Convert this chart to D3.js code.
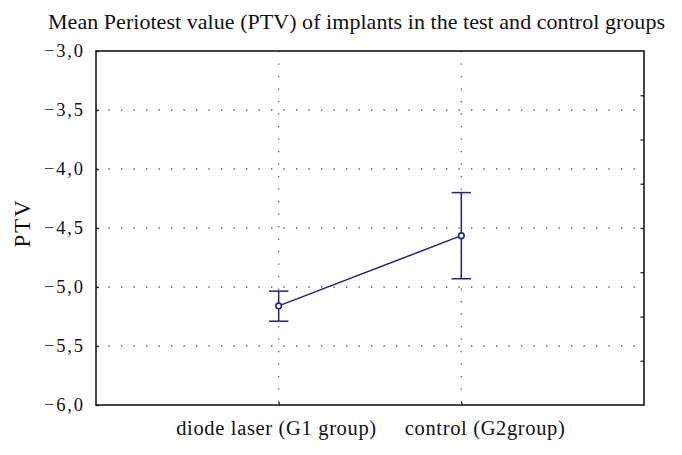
<!DOCTYPE html>
<html><head><meta charset="utf-8">
<script src="https://cdn.jsdelivr.net/npm/d3@7"></script>
<style>body{margin:0;background:#fff}svg{display:block}</style>
</head><body>
<svg id="c" width="682" height="455"></svg>
<script>
const title = "Mean Periotest value (PTV) of implants in the test and control groups";
const yLabel = "PTV";
const categories = ["diode laser (G1 group)", "control (G2group)"];
const means = [-5.16, -4.565];
const upper = [-5.035, -4.20];
const lower = [-5.29, -4.93];
const yTicks = [-3.0, -3.5, -4.0, -4.5, -5.0, -5.5, -6.0];

const W = 682, H = 455;
const m = {left: 96, right: 38, top: 51, bottom: 50};
const svg = d3.select("#c");
const font = "'Liberation Serif', 'Times New Roman', serif";
const navy = "#23237d";
const ink = "#111";

const x = d3.scaleLinear().domain([0, categories.length + 1]).range([m.left, W - m.right]);
const y = d3.scaleLinear().domain([-6, -3]).range([H - m.bottom, m.top]);
const fmt = v => d3.format(".1f")(v).replace(".", ",").replace("-", "\u2212");

// widen a text node with letter-spacing to a target ink width, then place its box
function fitText(node, targetW, anchorX, mode) {
  const sel = d3.select(node);
  const n = node.getNumberOfChars();
  const w0 = node.getComputedTextLength();
  const ls = Math.max(0, (targetW - w0) / Math.max(1, n - 1));
  sel.attr("letter-spacing", ls);
  const bb = node.getBBox();
  const inkW = bb.width - ls;
  let left;
  if (mode === "start") left = anchorX;
  else if (mode === "end") left = anchorX - inkW;
  else left = anchorX - inkW / 2;
  const cur = +sel.attr("x") || 0;
  sel.attr("x", cur + (left - bb.x));
}

// gridlines
const g = svg.append("g");
yTicks.filter(t => t > -6 && t < -3).forEach(t => {
  g.append("line").attr("x1", x(0)).attr("x2", x(3)).attr("y1", y(t)).attr("y2", y(t))
   .attr("stroke", "#555").attr("stroke-width", 1.3).attr("stroke-dasharray", "1.3,11.2");
});
categories.forEach((c, i) => {
  g.append("line").attr("x1", x(i + 1)).attr("x2", x(i + 1)).attr("y1", y(-3)).attr("y2", y(-6))
   .attr("stroke", "#555").attr("stroke-width", 1.3).attr("stroke-dasharray", "1.3,11.2");
});

// left axis
const ya = svg.append("g").attr("transform", `translate(${m.left},0)`)
  .call(d3.axisLeft(y).tickValues(yTicks).tickFormat(fmt).tickSizeInner(-3).tickSizeOuter(0).tickPadding(13));
ya.select(".domain").remove();
ya.selectAll("text").attr("font-family", font).attr("font-size", 18.5).attr("fill", ink)
  .attr("text-anchor", "start").attr("x", 0)
  .each(function () { fitText(this, 39, -13, "end"); });
ya.selectAll("line").attr("stroke", "#222").attr("stroke-width", 1.3);

// bottom axis
const labelShift = [-3, 23];
const xa = svg.append("g").attr("transform", `translate(0,${H - m.bottom})`)
  .call(d3.axisBottom(x).tickValues([1, 2]).tickFormat((d) => categories[d - 1]).tickSizeInner(-3).tickSizeOuter(0).tickPadding(14));
xa.select(".domain").remove();
xa.selectAll("text").attr("font-family", font).attr("font-size", 20.5).attr("fill", ink)
  .attr("text-anchor", "start").attr("x", 0).attr("y", 0).attr("dy", null).attr("dominant-baseline", null)
  .attr("transform", "translate(0,30)")
  .each(function (d, i) { fitText(this, i === 0 ? 200 : 160, labelShift[i], "middle"); });
xa.selectAll("line").attr("stroke", "#222").attr("stroke-width", 1.3);

// right axis ticks (8 divisions, unlabelled)
const yr = d3.scaleLinear().domain([0, 8]).range([H - m.bottom, m.top]);
const ra = svg.append("g").attr("transform", `translate(${W - m.right},0)`)
  .call(d3.axisRight(yr).tickValues(d3.range(1, 8)).tickFormat("").tickSizeInner(-3.5).tickSizeOuter(0));
ra.select(".domain").remove();
ra.selectAll("line").attr("stroke", "#222").attr("stroke-width", 1.3);

// frame
svg.append("rect").attr("x", x(0)).attr("y", y(-3)).attr("width", x(3) - x(0)).attr("height", y(-6) - y(-3))
  .attr("fill", "none").attr("stroke", "#1a1a1a").attr("stroke-width", 1.6);

// data line
const line = d3.line().x((d, i) => x(i + 1)).y(d => y(d));
svg.append("path").datum(means).attr("d", line).attr("fill", "none").attr("stroke", navy).attr("stroke-width", 1.5);

// error bars
const eb = svg.append("g");
categories.forEach((c, i) => {
  const cx = x(i + 1);
  eb.append("line").attr("x1", cx).attr("x2", cx).attr("y1", y(upper[i])).attr("y2", y(lower[i]))
    .attr("stroke", navy).attr("stroke-width", 1.5);
  [upper[i], lower[i]].forEach(v => {
    eb.append("line").attr("x1", cx - 9.7).attr("x2", cx + 9.7).attr("y1", y(v)).attr("y2", y(v))
      .attr("stroke", navy).attr("stroke-width", 1.5);
  });
  eb.append("circle").attr("cx", cx).attr("cy", y(means[i])).attr("r", 2.8)
    .attr("fill", "#fff").attr("stroke", navy).attr("stroke-width", 1.6);
});

// title
const t = svg.append("text").attr("x", 0).attr("y", 29)
  .attr("font-family", font).attr("font-size", 22).attr("fill", ink).text(title);
fitText(t.node(), 617, 48, "start");

// y label
const yl = svg.append("g").attr("transform", `translate(30,${(y(-3) + y(-6)) / 2 - 4}) rotate(-90)`)
  .append("text").attr("x", 0).attr("y", 0)
  .attr("font-family", font).attr("font-size", 23).attr("fill", ink).text(yLabel);
fitText(yl.node(), 47, 0, "middle");
</script>
</body></html>
